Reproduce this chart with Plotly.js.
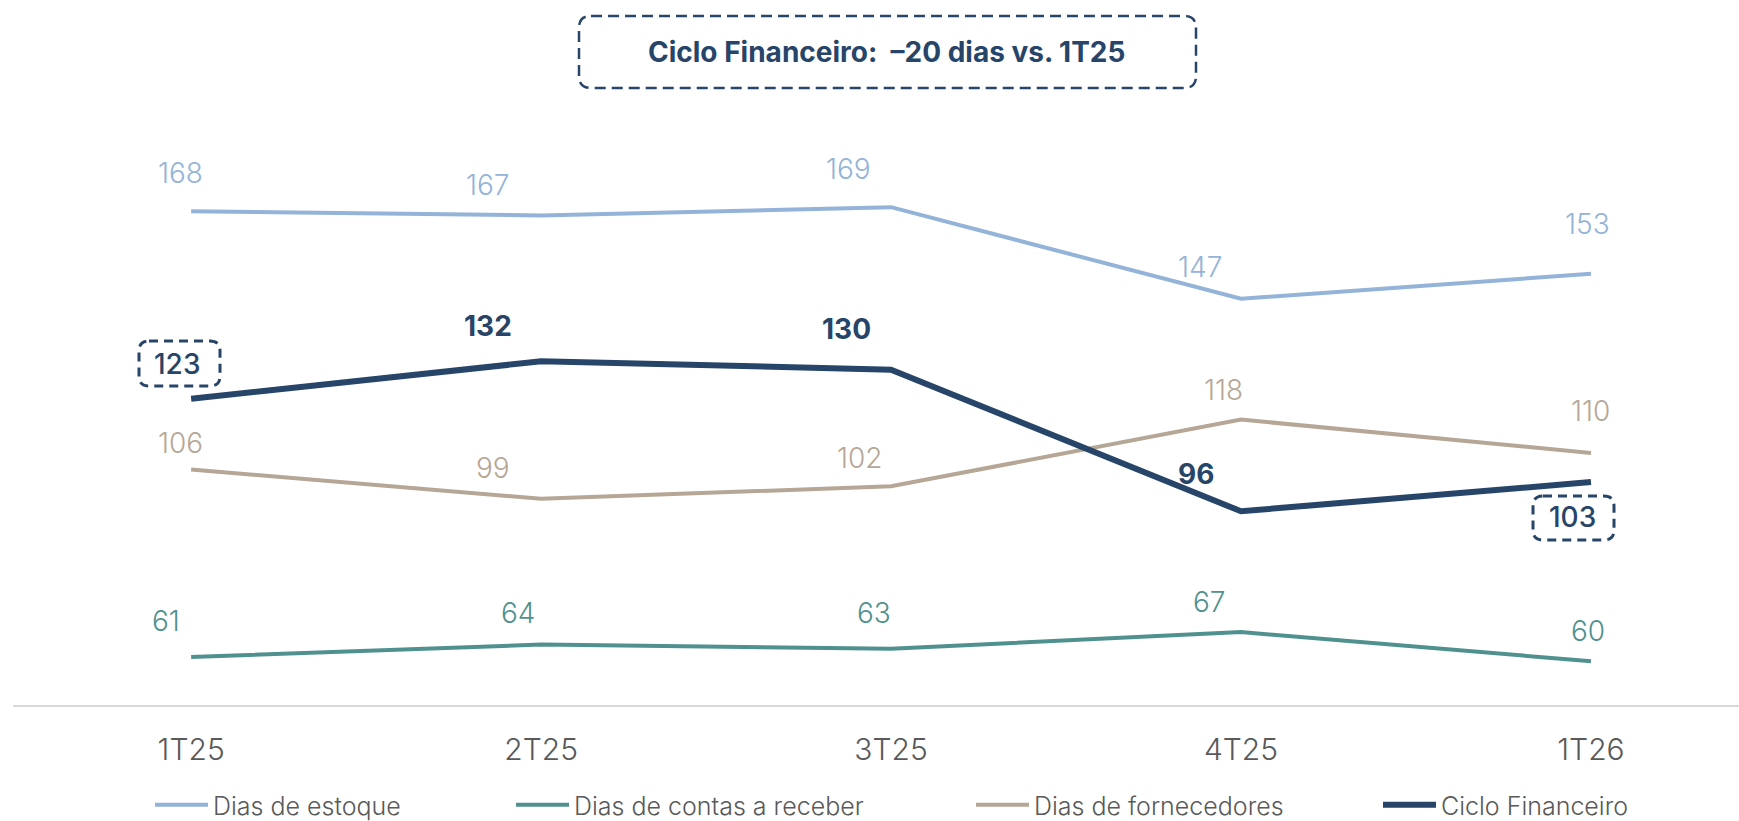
<!DOCTYPE html>
<html><head><meta charset="utf-8">
<script src="https://cdn.plot.ly/plotly-3.0.1.min.js"></script>
<style>html,body{margin:0;padding:0;background:#fff}</style></head>
<body><div id="chart" style="width:1739px;height:821px"></div>
<script>
// ---- data ----
const quarters = ['1T25', '2T25', '3T25', '4T25', '1T26'];
const diasEstoque = [168, 167, 169, 147, 153];
const diasReceber = [61, 64, 63, 67, 60];
const diasFornecedores = [106, 99, 102, 118, 110];
const cicloFinanceiro = [123, 132, 130, 96, 103];
const seriesNames = ['Dias de estoque', 'Dias de contas a receber', 'Dias de fornecedores', 'Ciclo Financeiro'];
const titleText = 'Ciclo Financeiro:\u00a0 \u201320 dias vs. 1T25';

// ---- style / layout ----
const colors = ['#93B3D8', '#4F918E', '#B6A696', '#264569'];
const FONT = 'Inter, "Noto Sans", sans-serif';
const L = 13, T = 78, W = 1726, H = 627;
const px2x = p => (p - L) / W;
const py2y = p => (T + H - p) / H;
// label offsets (dx, up) in px, per point
const labelShift = [
  [[-11, 38], [-53, 30], [-43, 38], [-41, 32], [-3, 50]],
  [[-25, 36], [-23, 32], [-17, 36], [-32, 30], [-3, 30]],
  [[-11, 27], [-48, 31], [-31, 28], [-18, 30], [0, 42]],
  [[-14, 35], [-53, 35], [-45, 41], [-45, 37], [-18, -35]]
];
const boxedPoints = [0, 4]; // Ciclo Financeiro labels drawn in dashed boxes
const allSeries = [diasEstoque, diasReceber, diasFornecedores, cicloFinanceiro];
const widths = [4, 4, 4, 6];
const legendNames = ['legend', 'legend2', 'legend3', 'legend4'];
const legendLeft = [150, 511, 971, 1378];

const traces = allSeries.map((s, i) => ({
  type: 'scatter', mode: 'lines', x: quarters, y: s, name: seriesNames[i],
  line: {color: colors[i], width: widths[i]}, legend: legendNames[i], hoverinfo: 'x+y+name'
}));

const annotations = [];
allSeries.forEach((s, i) => {
  s.forEach((v, j) => {
    let w = 300;
    if (i === 3) w = boxedPoints.includes(j) ? 500 : 650;
    annotations.push({
      x: quarters[j], y: v, xref: 'x', yref: 'y', text: String(v), showarrow: false,
      xshift: labelShift[i][j][0], yshift: labelShift[i][j][1],
      font: {family: FONT, size: 28, color: colors[i], weight: w}
    });
  });
});
annotations.push({
  xref: 'paper', yref: 'paper', x: px2x(887), y: py2y(52), xanchor: 'center', yanchor: 'middle',
  text: titleText, showarrow: false,
  font: {family: FONT, size: 28, color: '#264569', weight: 700}
});

function rrect(x0, y0, x1, y1, r) {
  const P = (x, y) => px2x(x) + ',' + py2y(y);
  return 'M' + P(x0 + r, y0) + ' L' + P(x1 - r, y0) + ' Q' + P(x1, y0) + ' ' + P(x1, y0 + r) +
    ' L' + P(x1, y1 - r) + ' Q' + P(x1, y1) + ' ' + P(x1 - r, y1) +
    ' L' + P(x0 + r, y1) + ' Q' + P(x0, y1) + ' ' + P(x0, y1 - r) +
    ' L' + P(x0, y0 + r) + ' Q' + P(x0, y0) + ' ' + P(x0 + r, y0) + ' Z';
}
const shapes = [
  {type: 'path', xref: 'paper', yref: 'paper', path: rrect(579, 16, 1196, 88, 12),
   line: {color: '#264569', width: 2.5, dash: '11px,6px'}},
  {type: 'path', xref: 'paper', yref: 'paper', path: rrect(139, 341, 220, 386, 10),
   line: {color: '#264569', width: 3, dash: '9px,6px'}},
  {type: 'path', xref: 'paper', yref: 'paper', path: rrect(1533, 496, 1614, 540, 10),
   line: {color: '#264569', width: 3, dash: '9px,6px'}}
];

const layout = {
  width: 1739, height: 821,
  margin: {l: L, r: 1739 - L - W, t: T, b: 821 - T - H, autoexpand: false},
  paper_bgcolor: '#ffffff', plot_bgcolor: '#ffffff',
  showlegend: true,
  xaxis: {type: 'category', range: [-0.509, 4.423], showgrid: false, zeroline: false,
    showline: true, linecolor: '#D9D9D9', linewidth: 2,
    ticks: 'outside', ticklen: 17, tickcolor: 'rgba(0,0,0,0)',
    tickfont: {family: FONT, size: 30, color: '#595959', weight: 300}},
  yaxis: {range: [49.5, 200], visible: false, showgrid: false, zeroline: false},
  annotations: annotations, shapes: shapes
};
legendNames.forEach((ln, i) => {
  layout[ln] = {x: px2x(legendLeft[i]), y: py2y(805), xanchor: 'left', yanchor: 'middle',
    orientation: 'h', bgcolor: 'rgba(0,0,0,0)', itemwidth: 53,
    font: {family: FONT, size: 25, color: '#595959', weight: 300}};
});

Plotly.newPlot('chart', traces, layout, {displayModeBar: false, responsive: false});
</script></body></html>
